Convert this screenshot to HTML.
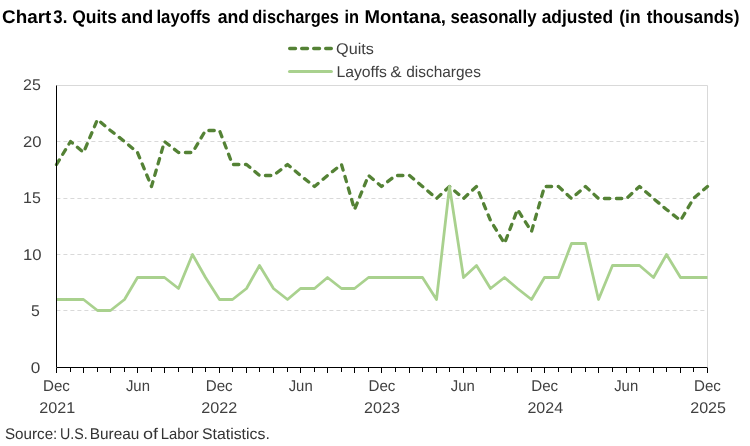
<!DOCTYPE html>
<html lang="en"><head><meta charset="utf-8"><title>Chart 3. Quits and layoffs and discharges in Montana</title>
<style>
html,body{margin:0;padding:0;background:#fff;}
svg{display:block;font-family:"Liberation Sans",sans-serif;text-rendering:geometricPrecision;}
</style></head><body>
<svg width="750" height="446" viewBox="0 0 750 446">
<rect width="750" height="446" fill="#fff"/>
<path d="M56.5 85.5H707.5V367.5" fill="none" stroke="#d9d9d9" stroke-width="1"/>
<line x1="56.4" x2="707.5" y1="310.50" y2="310.50" stroke="#d9d9d9" stroke-width="1" stroke-dasharray="4 3"/>
<line x1="56.4" x2="707.5" y1="254.50" y2="254.50" stroke="#d9d9d9" stroke-width="1" stroke-dasharray="4 3"/>
<line x1="56.4" x2="707.5" y1="198.50" y2="198.50" stroke="#d9d9d9" stroke-width="1" stroke-dasharray="4 3"/>
<line x1="56.4" x2="707.5" y1="141.50" y2="141.50" stroke="#d9d9d9" stroke-width="1" stroke-dasharray="4 3"/>
<polyline points="56.5,164.5 70.5,141.5 83.5,152.5 97.5,119.5 110.5,130.5 124.5,141.5 137.5,152.5 151.5,186.5 164.5,141.5 178.5,152.5 192.5,152.5 205.5,130.5 219.5,130.5 232.5,164.5 246.5,164.5 259.5,175.5 273.5,175.5 287.5,164.5 300.5,175.5 314.5,186.5 327.5,175.5 341.5,164.5 354.5,209.5 368.5,175.5 381.5,186.5 395.5,175.5 409.5,175.5 422.5,186.5 436.5,198.5 449.5,186.5 463.5,198.5 476.5,186.5 490.5,220.5 504.5,243.5 517.5,209.5 531.5,231.5 544.5,186.5 558.5,186.5 571.5,198.5 585.5,186.5 598.5,198.5 612.5,198.5 626.5,198.5 639.5,186.5 653.5,198.5 666.5,209.5 680.5,220.5 693.5,198.5 707.5,186.5" fill="none" stroke="#548235" stroke-width="3.3" stroke-dasharray="5.4 6.6" stroke-linecap="round" stroke-linejoin="round"/>
<polyline points="56.5,299.5 70.5,299.5 83.5,299.5 97.5,310.5 110.5,310.5 124.5,299.5 137.5,277.5 151.5,277.5 164.5,277.5 178.5,288.5 192.5,254.5 205.5,277.5 219.5,299.5 232.5,299.5 246.5,288.5 259.5,265.5 273.5,288.5 287.5,299.5 300.5,288.5 314.5,288.5 327.5,277.5 341.5,288.5 354.5,288.5 368.5,277.5 381.5,277.5 395.5,277.5 409.5,277.5 422.5,277.5 436.5,299.5 449.5,186.5 463.5,277.5 476.5,265.5 490.5,288.5 504.5,277.5 517.5,288.5 531.5,299.5 544.5,277.5 558.5,277.5 571.5,243.5 585.5,243.5 598.5,299.5 612.5,265.5 626.5,265.5 639.5,265.5 653.5,277.5 666.5,254.5 680.5,277.5 693.5,277.5 707.5,277.5" fill="none" stroke="#a9d18e" stroke-width="2.8" stroke-linejoin="round"/>
<path d="M56.5 85.5V367.5H707.5" fill="none" stroke="#000" stroke-width="1"/>
<path d="M56.5 368v5M70.5 368v4M83.5 368v5M97.5 368v4M110.5 368v5M124.5 368v4M137.5 368v5M151.5 368v4M164.5 368v5M178.5 368v4M192.5 368v5M205.5 368v4M219.5 368v5M232.5 368v4M246.5 368v5M259.5 368v4M273.5 368v5M287.5 368v4M300.5 368v5M314.5 368v4M327.5 368v5M341.5 368v4M354.5 368v5M368.5 368v4M381.5 368v5M395.5 368v4M409.5 368v5M422.5 368v4M436.5 368v5M449.5 368v4M463.5 368v5M476.5 368v4M490.5 368v5M504.5 368v4M517.5 368v5M531.5 368v4M544.5 368v5M558.5 368v4M571.5 368v5M585.5 368v4M598.5 368v5M612.5 368v4M626.5 368v5M639.5 368v4M653.5 368v5M666.5 368v4M680.5 368v5M693.5 368v4M707.5 368v5" stroke="#000" stroke-width="1" fill="none"/>
<line x1="289.7" x2="331.3" y1="48.55" y2="48.55" stroke="#548235" stroke-width="3.4" stroke-dasharray="5.8 6.2" stroke-linecap="round"/>
<line x1="289.6" x2="331.3" y1="71.5" y2="71.5" stroke="#a9d18e" stroke-width="3.2" stroke-linecap="round"/>
<text transform="translate(2.05 23.00) scale(1.0242 1)" font-size="18.4" font-weight="bold" fill="#000">Chart</text>
<text transform="translate(53.36 23.00) scale(0.9105 1)" font-size="18.4" font-weight="bold" fill="#000">3.</text>
<text transform="translate(72.20 23.00) scale(0.9513 1)" font-size="18.4" font-weight="bold" fill="#000">Quits</text>
<text transform="translate(121.24 23.00) scale(0.9736 1)" font-size="18.4" font-weight="bold" fill="#000">and</text>
<text transform="translate(156.39 23.00) scale(0.9142 1)" font-size="18.4" font-weight="bold" fill="#000">layoffs</text>
<text transform="translate(217.65 23.00) scale(0.9608 1)" font-size="18.4" font-weight="bold" fill="#000">and</text>
<text transform="translate(252.34 23.00) scale(0.8919 1)" font-size="18.4" font-weight="bold" fill="#000">discharges</text>
<text transform="translate(344.42 23.00) scale(0.8918 1)" font-size="18.4" font-weight="bold" fill="#000">in</text>
<text transform="translate(364.48 23.00) scale(1.0104 1)" font-size="18.4" font-weight="bold" fill="#000">Montana,</text>
<text transform="translate(450.50 23.00) scale(0.9143 1)" font-size="18.4" font-weight="bold" fill="#000">seasonally</text>
<text transform="translate(541.65 23.00) scale(0.9438 1)" font-size="18.4" font-weight="bold" fill="#000">adjusted</text>
<text transform="translate(619.30 23.00) scale(0.9504 1)" font-size="18.4" font-weight="bold" fill="#000">(in</text>
<text transform="translate(646.83 23.00) scale(0.9340 1)" font-size="18.4" font-weight="bold" fill="#000">thousands)</text>
<text transform="translate(336.05 54.00) scale(1.0458 1)" font-size="15.5" fill="#404040">Quits</text>
<text transform="translate(336.44 77.00) scale(1.0169 1)" font-size="15.5" fill="#404040">Layoffs</text>
<text transform="translate(390.29 77.00) scale(1.0958 1)" font-size="15.5" fill="#404040">&amp;</text>
<text transform="translate(406.18 77.00) scale(0.9963 1)" font-size="15.5" fill="#404040">discharges</text>
<text transform="translate(23.00 90.00) scale(1.0311 1)" font-size="15.5" fill="#404040">25</text>
<text transform="translate(22.97 147.00) scale(1.0751 1)" font-size="15.5" fill="#404040">20</text>
<text transform="translate(22.98 203.00) scale(1.0324 1)" font-size="15.5" fill="#404040">15</text>
<text transform="translate(22.93 260.00) scale(1.0772 1)" font-size="15.5" fill="#404040">10</text>
<text transform="translate(31.07 316.00) scale(1.0215 1)" font-size="15.5" fill="#404040">5</text>
<text transform="translate(30.79 373.00) scale(1.1060 1)" font-size="15.5" fill="#404040">0</text>
<text transform="translate(42.99 391.00) scale(0.9764 1)" font-size="15.5" fill="#404040">Dec</text>
<text transform="translate(39.19 413.00) scale(1.0427 1)" font-size="15.5" fill="#404040">2021</text>
<text transform="translate(125.93 391.00) scale(0.9597 1)" font-size="15.5" fill="#404040">Jun</text>
<text transform="translate(205.74 391.00) scale(0.9764 1)" font-size="15.5" fill="#404040">Dec</text>
<text transform="translate(201.24 413.00) scale(1.0427 1)" font-size="15.5" fill="#404040">2022</text>
<text transform="translate(288.68 391.00) scale(0.9597 1)" font-size="15.5" fill="#404040">Jun</text>
<text transform="translate(368.49 391.00) scale(0.9764 1)" font-size="15.5" fill="#404040">Dec</text>
<text transform="translate(364.10 413.00) scale(1.0378 1)" font-size="15.5" fill="#404040">2023</text>
<text transform="translate(450.83 391.00) scale(0.9597 1)" font-size="15.5" fill="#404040">Jun</text>
<text transform="translate(531.24 391.00) scale(0.9764 1)" font-size="15.5" fill="#404040">Dec</text>
<text transform="translate(527.45 413.00) scale(1.0330 1)" font-size="15.5" fill="#404040">2024</text>
<text transform="translate(614.18 391.00) scale(0.9597 1)" font-size="15.5" fill="#404040">Jun</text>
<text transform="translate(693.99 391.00) scale(0.9764 1)" font-size="15.5" fill="#404040">Dec</text>
<text transform="translate(690.20 413.00) scale(1.0378 1)" font-size="15.5" fill="#404040">2025</text>
<text transform="translate(4.99 439.00) scale(0.9799 1)" font-size="15.5" fill="#333">Source:</text>
<text transform="translate(60.01 439.00) scale(0.9170 1)" font-size="15.5" fill="#333">U.S.</text>
<text transform="translate(89.77 439.00) scale(0.9934 1)" font-size="15.5" fill="#333">Bureau</text>
<text transform="translate(142.88 439.00) scale(1.1669 1)" font-size="15.5" fill="#333">of</text>
<text transform="translate(160.81 439.00) scale(0.9581 1)" font-size="15.5" fill="#333">Labor</text>
<text transform="translate(201.97 439.00) scale(1.0227 1)" font-size="15.5" fill="#333">Statistics.</text>
</svg></body></html>
